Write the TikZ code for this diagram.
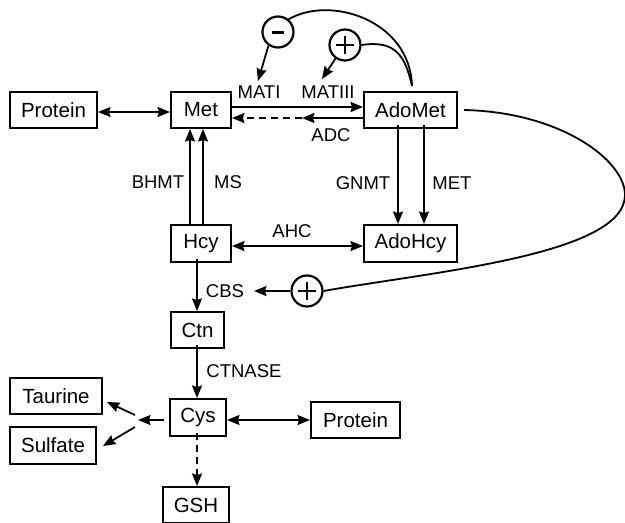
\documentclass[tikz,border=0pt]{standalone}
\usepackage{fontspec}
\setmainfont{Liberation Sans}
\usetikzlibrary{arrows.meta}
\begin{document}
\begin{tikzpicture}[x=1pt,y=-1pt,
  box/.style={draw,line width=2pt,minimum height=36pt,inner sep=0pt,font=\fontsize{20.5}{24}\selectfont},
  lbl/.style={inner sep=0pt,font=\fontsize{18.5}{22}\selectfont},
  tip/.tip={Stealth[length=12.5pt,width=10pt,inset=1.5pt]},
  arr/.style={line width=1.8pt,-tip},
  dbl/.style={line width=1.8pt,tip-tip},
  ln/.style={line width=1.8pt},
  circ/.style={draw,circle,line width=2.2pt,minimum size=31pt,inner sep=0pt}]
\useasboundingbox (0,0) rectangle (625,523);
% boxes
\node[box,minimum width=87pt] (protL) at (53.5,110) {Protein};
\node[box,minimum width=60pt] (met) at (201,110) {Met};
\node[box,minimum width=93pt] (adomet) at (410.5,110) {AdoMet};
\node[box,minimum width=93pt,minimum height=37pt] (adohcy) at (410.5,243.5) {AdoHcy};
\node[box,minimum width=60pt,minimum height=37pt] (hcy) at (201,243.5) {Hcy};
\node[box,minimum width=53pt] (ctn) at (197.5,330) {Ctn};
\node[box,minimum width=56pt,minimum height=37pt] (cys) at (198,417.5) {Cys};
\node[box,minimum width=89pt] (protR) at (355.5,420) {Protein};
\node[box,minimum width=92pt] (taurine) at (56,396) {Taurine};
\node[box,minimum width=86pt,minimum height=37pt] (sulfate) at (53,445.5) {Sulfate};
\node[box,minimum width=66pt] (gsh) at (196,505) {GSH};
% labels
\node[lbl] (mati) at (259,92) {MATI};
\node[lbl] (matiii) at (328,92) {MATIII};
\node[lbl] (adc) at (331,135) {ADC};
\node[lbl] (bhmt) at (158,182) {BHMT};
\node[lbl] (ms) at (228,182) {MS};
\node[lbl] (gnmt) at (363,183) {GNMT};
\node[lbl] (metl) at (452,183) {MET};
\node[lbl] (ahc) at (292,231) {AHC};
\node[lbl] (cbs) at (225,291) {CBS};
\node[lbl] (ctnase) at (244,371) {CTNASE};
% regulator circles
\node[circ] (minus) at (278,32) {};
\draw[line width=3pt] ([xshift=-6pt]minus.center) -- ([xshift=6pt]minus.center);
\node[circ] (plusA) at (345,45) {};
\draw[line width=2.2pt] ([xshift=-9pt]plusA.center) -- ([xshift=9pt]plusA.center)
  ([yshift=-9pt]plusA.center) -- ([yshift=9pt]plusA.center);
\node[circ] (plusB) at (307,291) {};
\draw[line width=2.2pt] ([xshift=-9pt]plusB.center) -- ([xshift=9pt]plusB.center)
  ([yshift=-9pt]plusB.center) -- ([yshift=9pt]plusB.center);
% coordinates
\coordinate (top) at (412,86);
\coordinate (mid) at (302,118);
\coordinate (tipMATI) at (258,81);
\coordinate (tipMATIII) at (322,79);
\coordinate (cbsR) at (254,291);
\coordinate (fork) at (138,420);
\coordinate (forkS) at (135,415);
\coordinate (forkT) at (135,427);
\coordinate (pe) at (protL.east|-0,112);
\coordinate (mw) at (met.west|-0,112);
% main connectors
\draw[dbl] (pe) -- (mw);
\draw[arr] (met.east|-0,107) -- (adomet.west|-0,107);
\draw[arr] (adomet.west|-0,118) -- (mid);
\draw[arr,dash pattern=on 7pt off 5pt] (mid) -- (met.east|-0,118);
\draw[arr] (hcy.north-|190,0) -- (met.south-|190,0);
\draw[arr] (hcy.north-|203,0) -- (met.south-|203,0);
\draw[arr] ([yshift=4pt]adomet.south-|398,0) -- (adohcy.north-|398,0);
\draw[arr] ([yshift=4pt]adomet.south-|424,0) -- (adohcy.north-|424,0);
\draw[dbl] (hcy.east|-0,246) -- (adohcy.west|-0,246);
\draw[arr] ([yshift=4pt]hcy.south-|197,0) -- (ctn.north-|197,0);
\draw[arr] ([yshift=4pt]ctn.south-|197,0) -- (cys.north-|197,0);
\draw[arr,dash pattern=on 7pt off 5pt] ([yshift=4pt]cys.south-|197,0) -- (gsh.north-|197,0);
\draw[dbl] (cys.east|-0,420) -- (protR.west|-0,420);
\draw[arr] ([xshift=-5pt]cys.west|-0,420) -- (fork);
\draw[arr] (forkS) -- ([xshift=4pt]taurine.east|-0,402);
\draw[arr] (forkT) -- ([xshift=6pt]sulfate.east|-0,446);
% regulation
\draw[arr] (minus.235) -- (tipMATI);
\draw[arr] (plusA.235) -- (tipMATIII);
\draw[ln] (top) .. controls (410,20) and (330,-5) .. (minus.50);
\draw[ln] (top) .. controls (405,55) and (395,40) .. (plusA.east);
\draw[arr] (plusB.west) -- (cbsR);
\draw[ln] ([xshift=6pt]adomet.east) .. controls (560,112) and (625,160) .. (625,195)
  .. controls (625,255) and (430,272) .. (plusB.east);
\end{tikzpicture}
\end{document}
